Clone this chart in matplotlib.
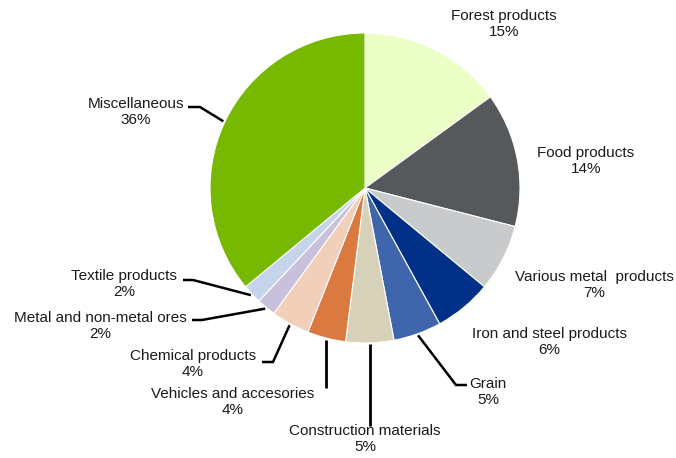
import numpy as np
import matplotlib
matplotlib.use("Agg")
import matplotlib.pyplot as plt

categories = ["Forest products", "Food products", "Various metal  products",
              "Iron and steel products", "Grain", "Construction materials",
              "Vehicles and accesories", "Chemical products",
              "Metal and non-metal ores", "Textile products", "Miscellaneous"]
shares = [15, 14, 7, 6, 5, 5, 4, 4, 2, 2, 36]
colors = ["#EBFFC6", "#56595B", "#C9CACC", "#003087", "#3F66AC", "#D7D1BA",
          "#DA7A40", "#F2CFB9", "#C9C1DC", "#C6D4EB", "#76B900"]

W, H, DPI = 676, 458, 100
CX, CY, R = 365, 188, 155  # pie centre and radius in pixels

fig = plt.figure(figsize=(W / DPI, H / DPI), dpi=DPI)
ax = fig.add_axes([0, 0, 1, 1])


def px(x, y):
    return (x - CX) / R, (CY - y) / R


wedges, _ = ax.pie(shares, colors=colors, startangle=90, counterclock=False,
                   radius=1.0, center=(0, 0), frame=True,
                   wedgeprops=dict(edgecolor="white", linewidth=0.8))
ax.set_xlim(-CX / R, (W - CX) / R)
ax.set_ylim(-(H - CY) / R, CY / R)
ax.set_aspect("equal")
ax.axis("off")

# label layout: text centre, leader knee, leader end (pixels)
layout = {
    "Forest products": ((504, 24), None, None),
    "Food products": ((586, 161), None, None),
    "Various metal  products": ((594, 285), None, None),
    "Iron and steel products": ((549, 342), None, None),
    "Grain": ((488, 392), (456, 385), (467, 385)),
    "Construction materials": ((365, 439), "v", (None, 426)),
    "Vehicles and accesories": ((233, 402), "v", (None, 388)),
    "Chemical products": ((193, 364), (273, 362), (262, 362)),
    "Metal and non-metal ores": ((100, 326), (202, 320), (192, 320)),
    "Textile products": ((124, 284), (193, 280), (183, 280)),
    "Miscellaneous": ((136, 112), (200, 107), (188, 107)),
}

font = dict(family=["Liberation Sans", "DejaVu Sans"], fontsize=11, color="#1a1a1a")

for w, name, val in zip(wedges, categories, shares):
    (tx, ty), knee, end = layout[name]
    x, y = px(tx, ty)
    ax.text(x, y, f"{name}\n{val}%", ha="center", va="center",
            linespacing=1.18, **font)
    if knee is None:
        continue
    mid = np.deg2rad((w.theta1 + w.theta2) / 2)
    rx, ry = 1.01 * np.cos(mid), 1.01 * np.sin(mid)
    if knee == "v":
        _, ey = px(0, end[1])
        ax.plot([rx, rx], [ry, ey], color="black", lw=2, solid_capstyle="butt")
    else:
        kx, ky = px(*knee)
        ex, ey = px(*end)
        ax.plot([rx, kx, ex], [ry, ky, ey], color="black", lw=1.8,
                solid_capstyle="butt", solid_joinstyle="miter")

fig.savefig("out.png", dpi=DPI)
